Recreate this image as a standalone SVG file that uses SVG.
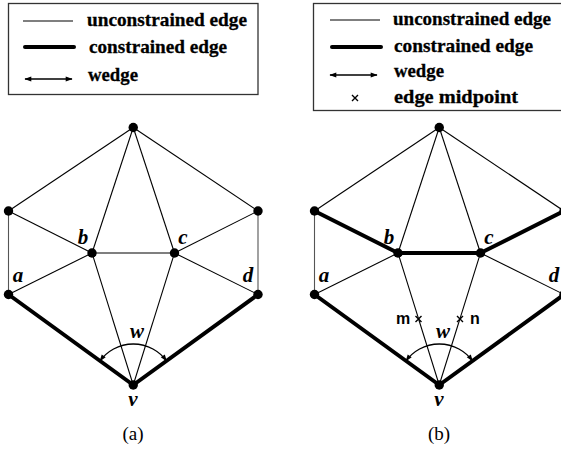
<svg xmlns="http://www.w3.org/2000/svg" width="561" height="450" viewBox="0 0 561 450">
<defs>
<marker id="ah" viewBox="0 0 10 10" refX="9" refY="5" markerWidth="9" markerHeight="7" markerUnits="userSpaceOnUse" orient="auto-start-reverse">
<path d="M0,1.5 L10,5 L0,8.5 Z" fill="#000"/>
</marker>
<style>
.thin{stroke:#000;stroke-width:1.1;fill:none}
.side{stroke:#555;stroke-width:1.1;fill:none}
.thick{stroke:#000;stroke-width:4;fill:none;stroke-linecap:round}
.wedge{stroke:#000;stroke-width:1.3;fill:none;marker-start:url(#ah);marker-end:url(#ah)}
.dot{fill:#000}
.leg{font-family:"Liberation Serif",serif;font-weight:bold;font-size:19.5px;fill:#000;stroke:#000;stroke-width:0.3}
.lab{font-family:"Liberation Serif",serif;font-weight:bold;font-style:italic;font-size:21px;fill:#000;text-anchor:middle}
.mid{font-family:"Liberation Sans",sans-serif;font-weight:bold;font-size:16px;fill:#000;text-anchor:middle}
.cap{font-family:"Liberation Serif",serif;font-size:19px;fill:#000;text-anchor:middle}
.box{fill:#fff;stroke:#333;stroke-width:1.3}
.x{stroke:#000;stroke-width:1.4;fill:none}
</style>
</defs>
<rect width="561" height="450" fill="#fff"/>

<g id="legend-a">
<rect class="box" x="8.5" y="3.5" width="249.5" height="91"/>
<line class="thin" x1="23" y1="21" x2="73" y2="21"/>
<text class="leg" x="87" y="26" textLength="160" lengthAdjust="spacingAndGlyphs">unconstrained edge</text>
<line class="thick" x1="25" y1="47" x2="74" y2="47"/>
<text class="leg" x="89" y="53" textLength="138" lengthAdjust="spacingAndGlyphs">constrained edge</text>
<line class="wedge" x1="25" y1="79" x2="72" y2="79"/>
<text class="leg" x="88" y="81" textLength="50" lengthAdjust="spacingAndGlyphs">wedge</text>
</g>

<g id="legend-b">
<rect class="box" x="313.5" y="3.5" width="260" height="107"/>
<line class="thin" x1="330" y1="20" x2="380" y2="20"/>
<text class="leg" x="393" y="25" textLength="158" lengthAdjust="spacingAndGlyphs">unconstrained edge</text>
<line class="thick" x1="332" y1="47" x2="381" y2="47"/>
<text class="leg" x="394" y="52" textLength="139" lengthAdjust="spacingAndGlyphs">constrained edge</text>
<line class="wedge" x1="330" y1="75" x2="377" y2="75"/>
<text class="leg" x="394" y="77" textLength="50" lengthAdjust="spacingAndGlyphs">wedge</text>
<path class="x" d="M352,95 L358,101 M358,95 L352,101"/>
<text class="leg" x="394" y="103" textLength="124" lengthAdjust="spacingAndGlyphs">edge midpoint</text>
</g>

<g id="connectors">
<line class="thin" x1="133.25" y1="127.5" x2="8.5" y2="211"/>
<line class="thin" x1="133.25" y1="127.5" x2="258" y2="211"/>
<line class="thin" x1="133.25" y1="127.5" x2="92" y2="253"/>
<line class="thin" x1="133.25" y1="127.5" x2="174.5" y2="253"/>
<line class="side" x1="8.5" y1="211" x2="8.5" y2="294.5"/>
<line class="side" x1="258" y1="211" x2="258" y2="294.5"/>
<line class="thin" x1="8.5" y1="211" x2="92" y2="253"/>
<line class="thin" x1="92" y1="253" x2="174.5" y2="253"/>
<line class="thin" x1="174.5" y1="253" x2="258" y2="211"/>
<line class="thin" x1="8.5" y1="294.5" x2="92" y2="253"/>
<line class="thin" x1="174.5" y1="253" x2="258" y2="294.5"/>
<line class="thin" x1="92" y1="253" x2="133.25" y2="385"/>
<line class="thin" x1="174.5" y1="253" x2="133.25" y2="385"/>
<line class="thick" x1="8.5" y1="294.5" x2="133.25" y2="385"/>
<line class="thick" x1="133.25" y1="385" x2="258" y2="294.5"/>
<path class="wedge" d="M100,361 A41,41 0 0 1 166.5,361"/>
<line class="thin" x1="439.25" y1="127.5" x2="314.5" y2="211"/>
<line class="thin" x1="439.25" y1="127.5" x2="564" y2="211"/>
<line class="thin" x1="439.25" y1="127.5" x2="398" y2="253"/>
<line class="thin" x1="439.25" y1="127.5" x2="480.5" y2="253"/>
<line class="side" x1="314.5" y1="211" x2="314.5" y2="294.5"/>
<line class="side" x1="564" y1="211" x2="564" y2="294.5"/>
<line class="thick" x1="314.5" y1="211" x2="398" y2="253"/>
<line class="thick" x1="398" y1="253" x2="480.5" y2="253"/>
<line class="thick" x1="480.5" y1="253" x2="564" y2="211"/>
<line class="thin" x1="314.5" y1="294.5" x2="398" y2="253"/>
<line class="thin" x1="480.5" y1="253" x2="564" y2="294.5"/>
<line class="thin" x1="398" y1="253" x2="439.25" y2="385"/>
<line class="thin" x1="480.5" y1="253" x2="439.25" y2="385"/>
<line class="thick" x1="314.5" y1="294.5" x2="439.25" y2="385"/>
<line class="thick" x1="439.25" y1="385" x2="564" y2="294.5"/>
<path class="wedge" d="M406,361 A41,41 0 0 1 472.5,361"/>
</g>

<g id="diagram-a">
<g id="a-top"><circle class="dot" cx="133.25" cy="127.5" r="4.7"/></g>
<g id="a-lu"><circle class="dot" cx="8.5" cy="211" r="4.7"/></g>
<g id="a-ru"><circle class="dot" cx="258" cy="211" r="4.7"/></g>
<g id="a-b"><circle class="dot" cx="92" cy="253" r="4.7"/><text class="lab" x="83" y="244">b</text></g>
<g id="a-c"><circle class="dot" cx="174.5" cy="253" r="4.7"/><text class="lab" x="183" y="244">c</text></g>
<g id="a-a"><circle class="dot" cx="8.5" cy="294.5" r="4.7"/><text class="lab" x="18" y="282">a</text></g>
<g id="a-d"><circle class="dot" cx="258" cy="294.5" r="4.7"/><text class="lab" x="248" y="282">d</text></g>
<g id="a-v"><circle class="dot" cx="133.25" cy="385" r="4.7"/><text class="lab" x="133" y="406">v</text></g>
<g id="a-w"><text class="lab" x="137" y="338">w</text></g>
<text class="cap" x="133" y="440">(a)</text>
</g>

<g id="diagram-b">
<g id="b-top"><circle class="dot" cx="439.25" cy="127.5" r="4.7"/></g>
<g id="b-lu"><circle class="dot" cx="314.5" cy="211" r="4.7"/></g>
<g id="b-ru"><circle class="dot" cx="564" cy="211" r="4.7"/></g>
<g id="b-b"><circle class="dot" cx="398" cy="253" r="4.7"/><text class="lab" x="389" y="244">b</text></g>
<g id="b-c"><circle class="dot" cx="480.5" cy="253" r="4.7"/><text class="lab" x="489" y="244">c</text></g>
<g id="b-a"><circle class="dot" cx="314.5" cy="294.5" r="4.7"/><text class="lab" x="324" y="282">a</text></g>
<g id="b-d"><circle class="dot" cx="564" cy="294.5" r="4.7"/><text class="lab" x="554" y="282">d</text></g>
<g id="b-v"><circle class="dot" cx="439.25" cy="385" r="4.7"/><text class="lab" x="439" y="406">v</text></g>
<g id="b-w"><text class="lab" x="443" y="338">w</text></g>
<g id="b-m"><path class="x" d="M415.5,316 L421.5,322 M421.5,316 L415.5,322"/><text class="mid" x="403" y="324">m</text></g>
<g id="b-n"><path class="x" d="M457,316 L463,322 M463,316 L457,322"/><text class="mid" x="475" y="324">n</text></g>
<text class="cap" x="439" y="440">(b)</text>
</g>
</svg>
